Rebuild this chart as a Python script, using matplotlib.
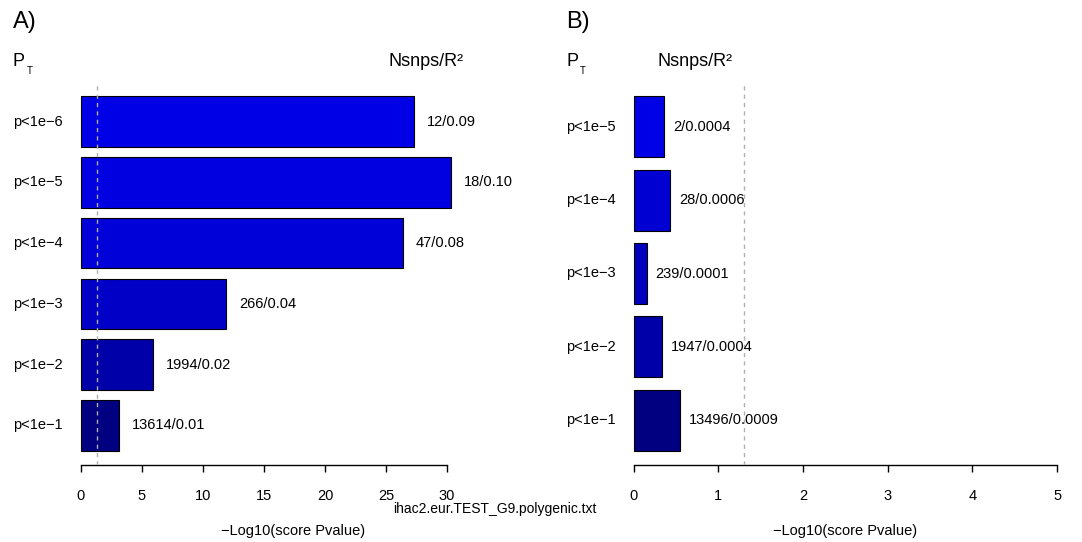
import numpy as np
import matplotlib
matplotlib.use("Agg")
import matplotlib.pyplot as plt
import matplotlib.transforms as mtransforms

plt.rcParams['font.family'] = ['Liberation Sans', 'DejaVu Sans']

# donnees
seuils_a = ["p<1e\u22126", "p<1e\u22125", "p<1e\u22124", "p<1e\u22123", "p<1e\u22122", "p<1e\u22121"]
score_a = [27.3, 30.3, 26.4, 11.9, 5.88, 3.09]
etiq_a = ["12/0.09", "18/0.10", "47/0.08", "266/0.04", "1994/0.02", "13614/0.01"]

seuils_b = ["p<1e\u22125", "p<1e\u22124", "p<1e\u22123", "p<1e\u22122", "p<1e\u22121"]
score_b = [0.36, 0.43, 0.153, 0.338, 0.55]
etiq_b = ["2/0.0004", "28/0.0006", "239/0.0001", "1947/0.0004", "13496/0.0009"]

ticks_a = [0, 5, 10, 15, 20, 25, 30]
ticks_b = [0, 1, 2, 3, 4, 5]
seuil_sig = -np.log10(0.05)

couleurs_a = ["#0000e6", "#0000e0", "#0000d8", "#0000c6", "#0000a8", "#000080"]
couleurs_b = ["#0000e6", "#0000d2", "#0000be", "#0000a8", "#000080"]

W, H = 1082, 542
fig = plt.figure(figsize=(W / 100, H / 100), dpi=100)


def fx(px):
    return px / W


def fy(py):
    return (H - py) / H


def panneau(rect, scores, seuils, etiq, couleurs, xlim, ticks, x_lab, dx_lab, x_txt, x_nsnps, lettre):
    ax = fig.add_axes(rect)
    n = len(scores)
    # positions facon barplot R (space=0.2), premiere barre en haut
    pos = 0.7 + 1.2 * np.arange(n)[::-1]
    ax.barh(pos, scores, height=1.0, color=couleurs, edgecolor="black", linewidth=0.8, zorder=2)
    ax.axvline(seuil_sig, color="#b0b0b0", ls=(0, (3, 3)), lw=1, zorder=3)
    etendue = 1.2 * n - 0.2
    ax.set_ylim(0.2 - 0.04 * etendue, 0.2 + etendue + 0.04 * etendue)
    ax.set_xlim(*xlim)
    for s in ["top", "right", "left"]:
        ax.spines[s].set_visible(False)
    ax.spines["bottom"].set_bounds(ticks[0], ticks[-1])
    ax.spines["bottom"].set_linewidth(1)
    ax.set_yticks([])
    ax.set_xticks(ticks)
    ax.tick_params(axis="x", length=5, width=1, pad=12, labelsize=10.5)
    for p, v, e in zip(pos, scores, etiq):
        ax.annotate(e, (v, p), xytext=(dx_lab, 0), textcoords="offset points",
                    ha="left", va="center", fontsize=10.5, annotation_clip=False)
    tr = mtransforms.blended_transform_factory(fig.transFigure, ax.transData)
    for p, s in zip(pos, seuils):
        ax.text(fx(x_txt), p, s, transform=tr, ha="left", va="center", fontsize=10.5)
    fig.text(fx(x_txt), fy(22), lettre, ha="left", va="center", fontsize=17)
    fig.text(fx(x_txt), fy(62), "P", ha="left", va="center", fontsize=13)
    fig.text(fx(x_txt + 14), fy(70.5), "T", ha="left", va="center", fontsize=7)
    fig.text(fx(x_nsnps), fy(62), "Nsnps/R\u00b2", ha="center", va="center", fontsize=13)
    fig.text(fx(x_lab), fy(531), "\u2212Log10(score Pvalue)", ha="center", va="center", fontsize=10.5)
    return ax


panneau([fx(64), fy(465), fx(458.6), 383 / H], score_a, seuils_a, etiq_a, couleurs_a,
        (-1.39, 36.2), ticks_a, 293, 9.4, 13, 426, "A)")
panneau([fx(616.8), fy(465), fx(457.2), 383 / H], score_b, seuils_b, etiq_b, couleurs_b,
        (-0.2, 5.2), ticks_b, 845, 6.3, 566, 695, "B)")

fig.text(fx(494.5), fy(509), "ihac2.eur.TEST_G9.polygenic.txt", ha="center", va="center", fontsize=10)

fig.savefig("out.png", dpi=100)
